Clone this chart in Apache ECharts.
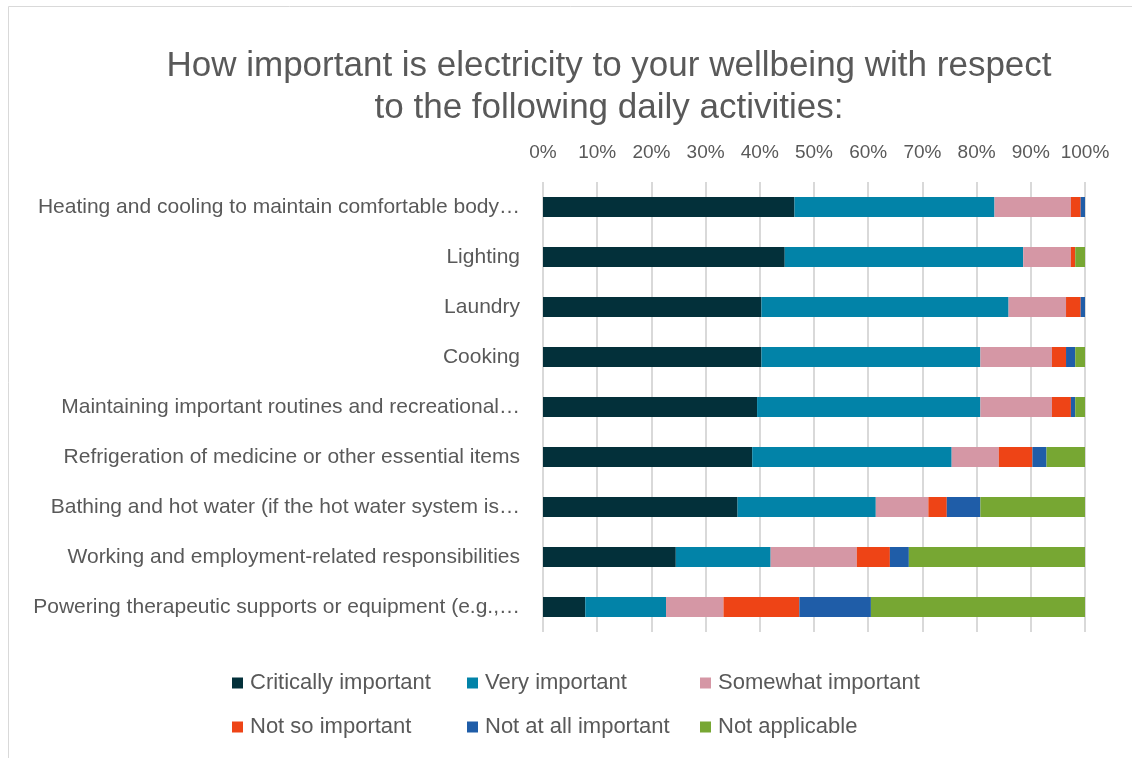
<!DOCTYPE html>
<html>
<head>
<meta charset="utf-8">
<script src="https://cdn.jsdelivr.net/npm/echarts@6/dist/echarts.min.js"></script>
<style>
  html, body { margin: 0; padding: 0; background: #fff; }
  #main { width: 1132px; height: 758px; }
</style>
</head>
<body>
<div id="main"></div>
<script>
// 数据：各活动（从上到下）
var activities = [
  'Heating and cooling to maintain comfortable body\u2026',
  'Lighting',
  'Laundry',
  'Cooking',
  'Maintaining important routines and recreational\u2026',
  'Refrigeration of medicine or other essential items',
  'Bathing and hot water (if the hot water system is\u2026',
  'Working and employment-related responsibilities',
  'Powering therapeutic supports or equipment (e.g.,\u2026'
];

var levels = ['Critically important', 'Very important', 'Somewhat important',
  'Not so important', 'Not at all important', 'Not applicable'];

var critically = [46.4, 44.6, 40.3, 40.3, 39.5, 38.6, 35.9, 24.5, 7.8];
var very       = [36.9, 44.0, 45.6, 40.4, 41.2, 36.8, 25.5, 17.5, 14.9];
var somewhat   = [14.1, 8.8, 10.6, 13.2, 13.2, 8.7, 9.7, 15.9, 10.6];
var notSo      = [1.8, 0.8, 2.7, 2.6, 3.5, 6.2, 3.4, 6.1, 14.0];
var notAtAll   = [0.8, 0.0, 0.8, 1.7, 0.8, 2.6, 6.2, 3.5, 13.2];
var notApplic  = [0.0, 1.8, 0.0, 1.8, 1.8, 7.1, 19.3, 32.5, 39.5];

var xTicks = [0, 10, 20, 30, 40, 50, 60, 70, 80, 90, 100];

var colors = ['#03303a', '#0283a8', '#d597a5', '#ee4416', '#1f5da8', '#77a733'];
var seriesData = [critically, very, somewhat, notSo, notAtAll, notApplic];

var fontName = 'Liberation Sans';
var textColor = '#595959';

var myChart = echarts.init(document.getElementById('main'));

var series = levels.map(function (name, i) {
  return {
    name: name,
    type: 'bar',
    stack: 'total',
    barWidth: 20,
    data: seriesData[i],
    itemStyle: {color: colors[i]}
  };
});

// 图例：两行三列，固定位置
var legendLeft = [232, 467, 700];
var legendTop = [672, 716];
var legends = levels.map(function (name, i) {
  return {
    data: [name],
    left: legendLeft[i % 3],
    top: legendTop[Math.floor(i / 3)],
    icon: 'rect',
    itemWidth: 11,
    itemHeight: 11,
    itemGap: 0,
    padding: 0,
    textStyle: {color: textColor, fontSize: 22, fontFamily: fontName, padding: [0, 0, 0, 2]}
  };
});

var option = {
  backgroundColor: '#fff',
  animation: false,
  color: colors,
  title: {
    text: 'How important is electricity to your wellbeing with respect\nto the following daily activities:',
    left: 604,
    textAlign: 'center',
    top: 40,
    textStyle: {
      color: textColor,
      fontSize: 35,
      fontWeight: 'normal',
      fontFamily: fontName,
      lineHeight: 42
    }
  },
  graphic: [{
    type: 'rect',
    shape: {x: 8.5, y: 6.5, width: 1140, height: 760},
    style: {fill: 'none', stroke: '#d9d9d9', lineWidth: 1}
  }],
  legend: legends,
  grid: {
    left: 543,
    right: 47,
    top: 182,
    bottom: 126
  },
  xAxis: {
    type: 'value',
    position: 'top',
    min: 0,
    max: 100,
    interval: 10,
    axisLine: {show: false},
    axisTick: {show: false},
    axisLabel: {
      color: textColor,
      fontSize: 19,
      fontFamily: fontName,
      margin: 20,
      formatter: function (v) {
        return xTicks.indexOf(v) >= 0 ? v + '%' : '';
      }
    },
    splitLine: {lineStyle: {color: '#d9d9d9', width: 2}}
  },
  yAxis: {
    type: 'category',
    inverse: true,
    data: activities,
    axisLine: {show: false},
    axisTick: {show: false},
    axisLabel: {
      color: textColor,
      fontSize: 21,
      fontFamily: fontName,
      margin: 23
    }
  },
  series: series
};

myChart.setOption(option);
</script>
</body>
</html>
